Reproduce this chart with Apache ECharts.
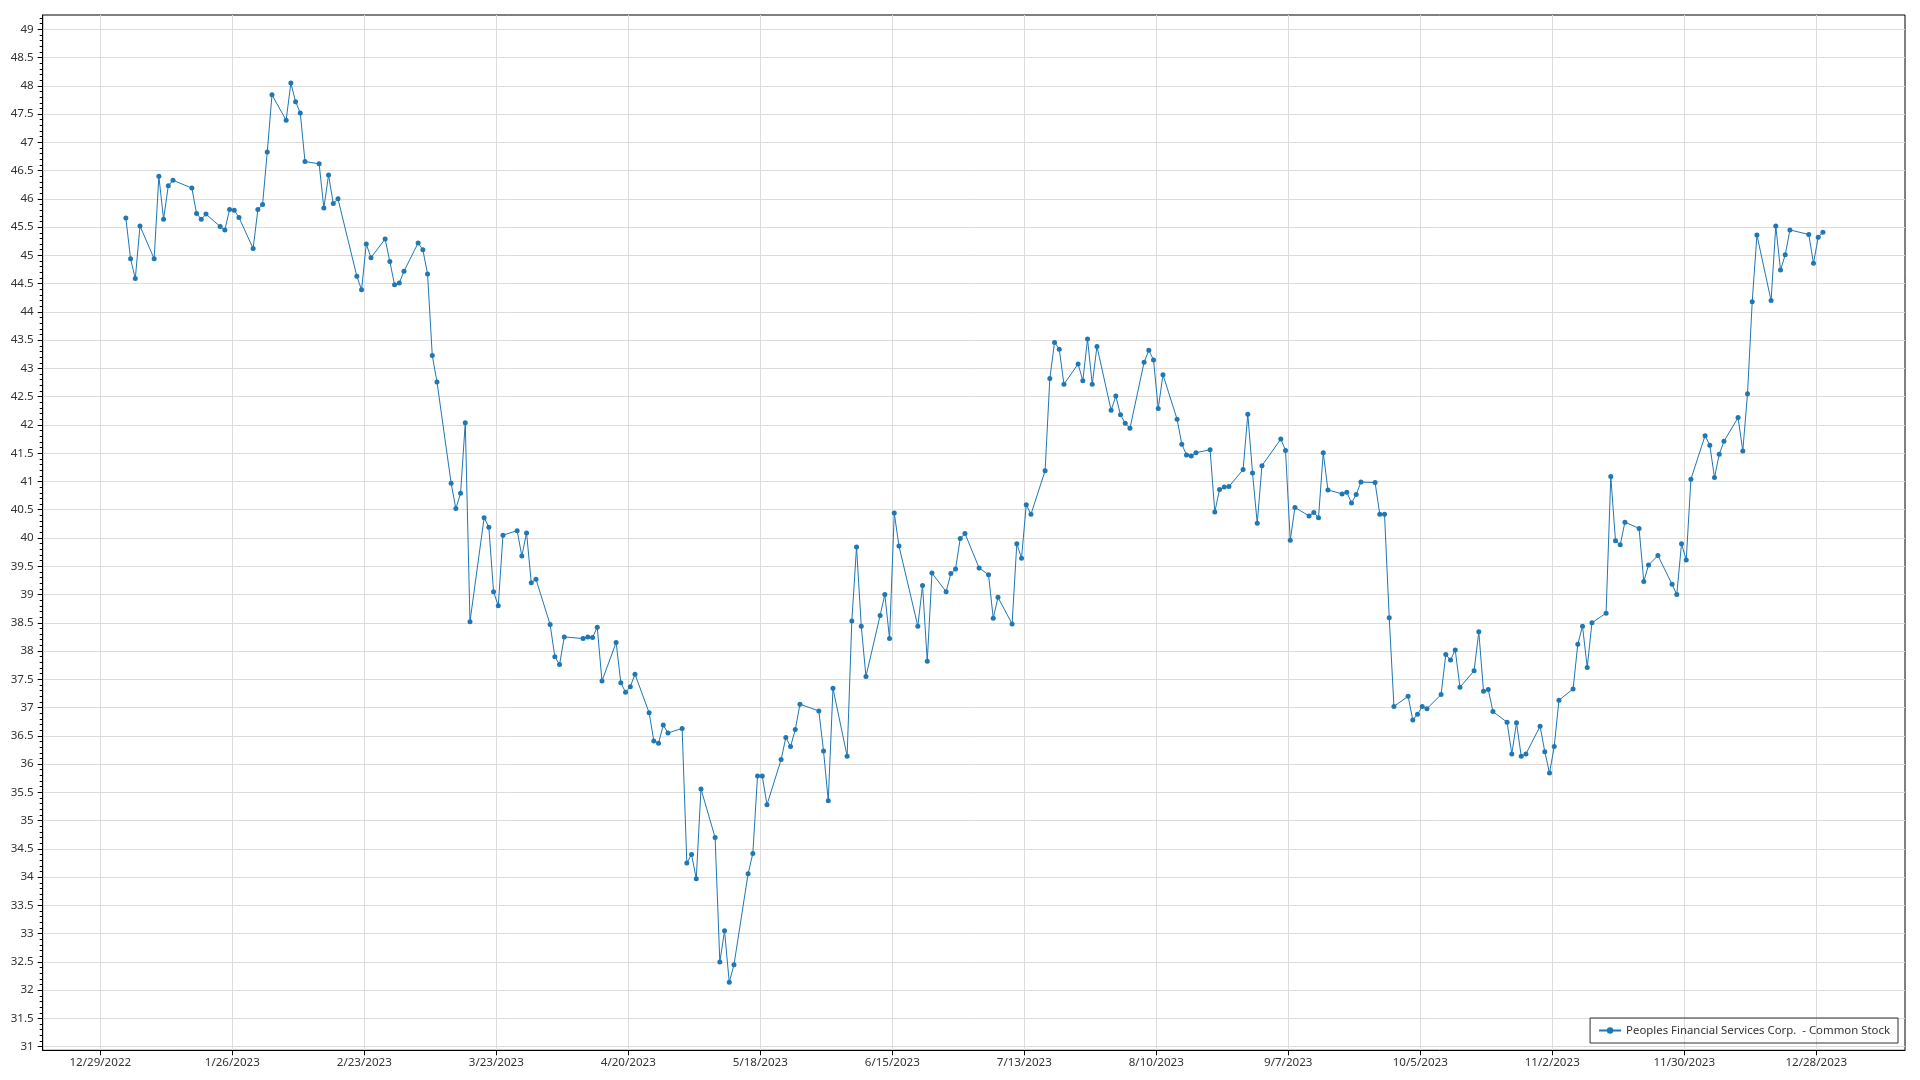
<!DOCTYPE html>
<html><head><meta charset="utf-8">
<script src="https://cdn.jsdelivr.net/npm/echarts@6/dist/echarts.min.js"></script>
<style>html,body{margin:0;padding:0;background:#fff;}#c{width:1920px;height:1080px;}</style>
</head><body><div id="c"></div>
<script>
const seriesName = 'Peoples Financial Services Corp.  - Common Stock';
const dates = [
'2023-01-03','2023-01-04','2023-01-05','2023-01-06','2023-01-09','2023-01-10','2023-01-11','2023-01-12','2023-01-13','2023-01-17',
'2023-01-18','2023-01-19','2023-01-20','2023-01-23','2023-01-24','2023-01-25','2023-01-26','2023-01-27','2023-01-30','2023-01-31',
'2023-02-01','2023-02-02','2023-02-03','2023-02-06','2023-02-07','2023-02-08','2023-02-09','2023-02-10','2023-02-13','2023-02-14',
'2023-02-15','2023-02-16','2023-02-17','2023-02-21','2023-02-22','2023-02-23','2023-02-24','2023-02-27','2023-02-28','2023-03-01',
'2023-03-02','2023-03-03','2023-03-06','2023-03-07','2023-03-08','2023-03-09','2023-03-10','2023-03-13','2023-03-14','2023-03-15',
'2023-03-16','2023-03-17','2023-03-20','2023-03-21','2023-03-22','2023-03-23','2023-03-24','2023-03-27','2023-03-28','2023-03-29',
'2023-03-30','2023-03-31','2023-04-03','2023-04-04','2023-04-05','2023-04-06','2023-04-10','2023-04-11','2023-04-12','2023-04-13',
'2023-04-14','2023-04-17','2023-04-18','2023-04-19','2023-04-20','2023-04-21','2023-04-24','2023-04-25','2023-04-26','2023-04-27',
'2023-04-28','2023-05-01','2023-05-02','2023-05-03','2023-05-04','2023-05-05','2023-05-08','2023-05-09','2023-05-10','2023-05-11',
'2023-05-12','2023-05-15','2023-05-16','2023-05-17','2023-05-18','2023-05-19','2023-05-22','2023-05-23','2023-05-24','2023-05-25',
'2023-05-26','2023-05-30','2023-05-31','2023-06-01','2023-06-02','2023-06-05','2023-06-06','2023-06-07','2023-06-08','2023-06-09',
'2023-06-12','2023-06-13','2023-06-14','2023-06-15','2023-06-16','2023-06-20','2023-06-21','2023-06-22','2023-06-23','2023-06-26',
'2023-06-27','2023-06-28','2023-06-29','2023-06-30','2023-07-03','2023-07-05','2023-07-06','2023-07-07','2023-07-10','2023-07-11',
'2023-07-12','2023-07-13','2023-07-14','2023-07-17','2023-07-18','2023-07-19','2023-07-20','2023-07-21','2023-07-24','2023-07-25',
'2023-07-26','2023-07-27','2023-07-28','2023-07-31','2023-08-01','2023-08-02','2023-08-03','2023-08-04','2023-08-07','2023-08-08',
'2023-08-09','2023-08-10','2023-08-11','2023-08-14','2023-08-15','2023-08-16','2023-08-17','2023-08-18','2023-08-21','2023-08-22',
'2023-08-23','2023-08-24','2023-08-25','2023-08-28','2023-08-29','2023-08-30','2023-08-31','2023-09-01','2023-09-05','2023-09-06',
'2023-09-07','2023-09-08','2023-09-11','2023-09-12','2023-09-13','2023-09-14','2023-09-15','2023-09-18','2023-09-19','2023-09-20',
'2023-09-21','2023-09-22','2023-09-25','2023-09-26','2023-09-27','2023-09-28','2023-09-29','2023-10-02','2023-10-03','2023-10-04',
'2023-10-05','2023-10-06','2023-10-09','2023-10-10','2023-10-11','2023-10-12','2023-10-13','2023-10-16','2023-10-17','2023-10-18',
'2023-10-19','2023-10-20','2023-10-23','2023-10-24','2023-10-25','2023-10-26','2023-10-27','2023-10-30','2023-10-31','2023-11-01',
'2023-11-02','2023-11-03','2023-11-06','2023-11-07','2023-11-08','2023-11-09','2023-11-10','2023-11-13','2023-11-14','2023-11-15',
'2023-11-16','2023-11-17','2023-11-20','2023-11-21','2023-11-22','2023-11-24','2023-11-27','2023-11-28','2023-11-29','2023-11-30',
'2023-12-01','2023-12-04','2023-12-05','2023-12-06','2023-12-07','2023-12-08','2023-12-11','2023-12-12','2023-12-13','2023-12-14',
'2023-12-15','2023-12-18','2023-12-19','2023-12-20','2023-12-21','2023-12-22','2023-12-26','2023-12-27','2023-12-28','2023-12-29'
];
const prices = [
45.66,44.94,44.59,45.52,44.94,46.40,45.64,46.23,46.33,46.19,
45.74,45.64,45.73,45.51,45.45,45.81,45.80,45.67,45.12,45.81,
45.90,46.83,47.84,47.39,48.05,47.72,47.52,46.66,46.62,45.84,
46.42,45.92,46.00,44.63,44.39,45.20,44.96,45.29,44.89,44.48,
44.51,44.72,45.22,45.10,44.67,43.23,42.76,40.97,40.52,40.79,
42.04,38.52,40.36,40.19,39.05,38.80,40.05,40.13,39.68,40.09,
39.21,39.27,38.47,37.90,37.76,38.25,38.22,38.25,38.24,38.42,
37.47,38.15,37.44,37.27,37.37,37.59,36.91,36.41,36.37,36.69,
36.55,36.63,34.25,34.40,33.97,35.56,34.70,32.50,33.05,32.14,
32.45,34.06,34.42,35.79,35.79,35.28,36.08,36.47,36.31,36.61,
37.06,36.94,36.23,35.35,37.34,36.14,38.53,39.84,38.44,37.55,
38.63,39.00,38.22,40.44,39.86,38.44,39.16,37.82,39.38,39.05,
39.37,39.45,39.99,40.08,39.47,39.35,38.58,38.95,38.48,39.90,
39.64,40.59,40.42,41.19,42.82,43.46,43.34,42.72,43.08,42.78,
43.52,42.72,43.39,42.26,42.51,42.18,42.03,41.94,43.11,43.32,
43.15,42.29,42.89,42.10,41.66,41.47,41.45,41.51,41.56,40.46,
40.86,40.90,40.91,41.21,42.19,41.15,40.26,41.28,41.75,41.55,
39.96,40.54,40.39,40.45,40.36,41.51,40.85,40.78,40.81,40.62,
40.77,40.99,40.98,40.42,40.42,38.59,37.02,37.20,36.78,36.88,
37.02,36.98,37.23,37.94,37.84,38.02,37.36,37.65,38.34,37.29,
37.32,36.93,36.74,36.18,36.73,36.14,36.18,36.67,36.22,35.84,
36.31,37.13,37.33,38.12,38.44,37.71,38.50,38.67,41.09,39.95,
39.88,40.28,40.17,39.23,39.52,39.69,39.18,39.00,39.90,39.61,
41.04,41.81,41.64,41.07,41.48,41.71,42.13,41.54,42.55,44.18,
45.36,44.20,45.52,44.74,45.01,45.45,45.37,44.86,45.32,45.41
];
const xTickDates = ['2022-12-29','2023-01-26','2023-02-23','2023-03-23','2023-04-20','2023-05-18','2023-06-15',
  '2023-07-13','2023-08-10','2023-09-07','2023-10-05','2023-11-02','2023-11-30','2023-12-28'];
const yTicks = [31,31.5,32,32.5,33,33.5,34,34.5,35,35.5,36,36.5,37,37.5,38,38.5,39,39.5,40,40.5,41,41.5,42,42.5,
  43,43.5,44,44.5,45,45.5,46,46.5,47,47.5,48,48.5,49];

const DAY = 86400000;
const base = Date.UTC(2022, 11, 29);
function dayNum(s) { const p = s.split('-').map(Number); return (Date.UTC(p[0], p[1]-1, p[2]) - base) / DAY; }
function fmtDay(v) { const d = new Date(base + Math.round(v) * DAY); return (d.getUTCMonth()+1) + '/' + d.getUTCDate() + '/' + d.getUTCFullYear(); }

const xTicks = xTickDates.map(dayNum);
const points = dates.map((s, i) => [dayNum(s) + 0.42, prices[i]]);
const minorTicks = [];
for (let i = 0; i < yTicks.length - 1; i++) for (let k = 1; k < 5; k++) minorTicks.push(+(yTicks[i] + k * 0.1).toFixed(2));
for (let k = 1; k <= 2; k++) minorTicks.push(+(49 + k * 0.1).toFixed(2));

const font = '"Noto Sans", "Open Sans", sans-serif';
const chart = echarts.init(document.getElementById('c'), null, {renderer: 'canvas'});
chart.setOption({
  animation: false,
  backgroundColor: '#ffffff',
  grid: { left: 42.7, right: 15, top: 15, bottom: 29.7, show: true, borderColor: '#000', borderWidth: 1, backgroundColor: 'transparent' },
  legend: {
    right: 22, bottom: 37, orient: 'horizontal',
    data: [seriesName],
    borderColor: '#333', borderWidth: 1, padding: [7, 8, 7, 8],
    itemWidth: 22, itemHeight: 8, itemGap: 6,
    textStyle: { fontFamily: font, fontSize: 11.4, color: '#333' }
  },
  xAxis: {
    type: 'value', min: -12.22, max: 382.83,
    axisLine: { show: true, onZero: false, lineStyle: { color: '#000', width: 1 } },
    axisTick: { show: true, length: 5, lineStyle: { color: '#000' }, customValues: xTicks },
    axisLabel: { customValues: xTicks, formatter: fmtDay, margin: 6, fontFamily: font, fontSize: 11.6, color: '#333' },
    splitLine: { show: true, lineStyle: { color: '#dcdcdc', width: 1 } }
  },
  yAxis: [{
    type: 'value', min: 30.936, max: 49.253,
    axisLine: { show: true, onZero: false, lineStyle: { color: '#000', width: 1 } },
    axisTick: { show: true, length: 5, lineStyle: { color: '#000' }, customValues: yTicks },
    axisLabel: { customValues: yTicks, margin: 9, fontFamily: font, fontSize: 11.6, color: '#333' },
    splitLine: { show: true, lineStyle: { color: '#dcdcdc', width: 1 } }
  }, {
    type: 'value', min: 30.936, max: 49.253, position: 'left', offset: 0,
    axisLine: { show: false, onZero: false },
    axisTick: { show: true, length: 3, lineStyle: { color: '#000' }, customValues: minorTicks },
    axisLabel: { show: false },
    splitLine: { show: false }
  }],
  series: [{
    name: seriesName, type: 'line', xAxisIndex: 0, yAxisIndex: 0,
    data: points,
    symbol: 'circle', symbolSize: 5, showSymbol: true,
    lineStyle: { color: '#1f77b4', width: 1 },
    itemStyle: { color: '#1f77b4' }
  }]
});
</script></body></html>
